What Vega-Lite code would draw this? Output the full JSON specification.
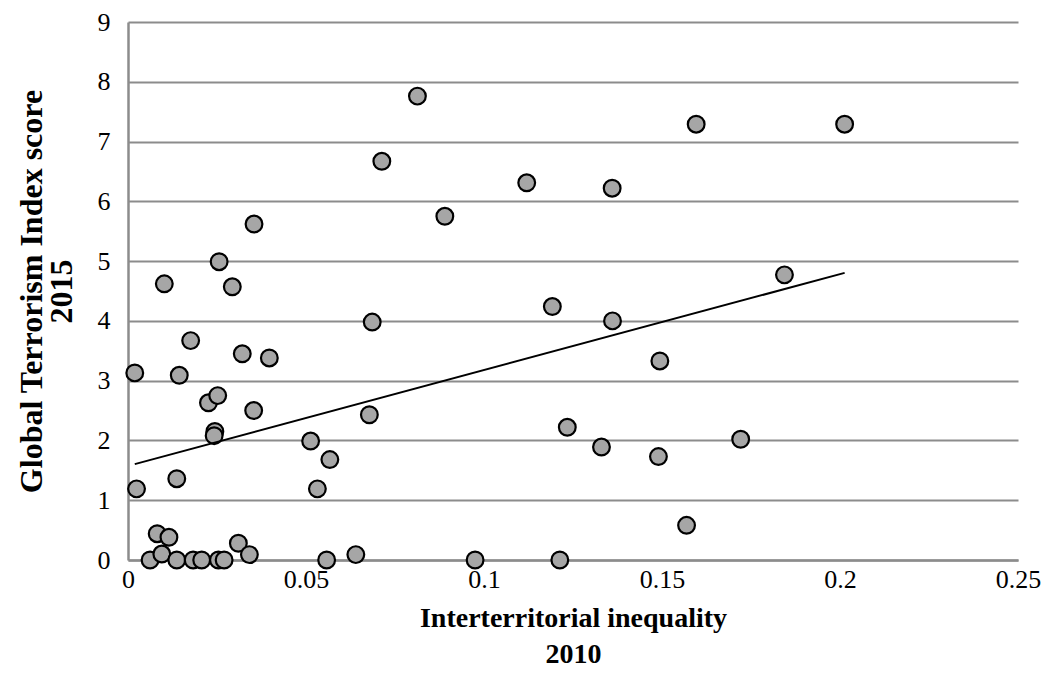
{
  "$schema": "https://vega.github.io/schema/vega-lite/v6.json",
  "width": 890,
  "height": 538,
  "autosize": "none",
  "padding": {"left": 128, "top": 22, "right": 27, "bottom": 118},
  "background": "white",
  "config": {"view": {"stroke": null}},
  "data": {"values": [
    {"ineq": 0.0019, "gti": 3.13},
    {"ineq": 0.0024, "gti": 1.19},
    {"ineq": 0.0062, "gti": 0.0},
    {"ineq": 0.0082, "gti": 0.44},
    {"ineq": 0.0095, "gti": 0.10},
    {"ineq": 0.0115, "gti": 0.38},
    {"ineq": 0.0102, "gti": 4.62},
    {"ineq": 0.0137, "gti": 1.36},
    {"ineq": 0.0137, "gti": 0.0},
    {"ineq": 0.0144, "gti": 3.09},
    {"ineq": 0.0176, "gti": 3.67},
    {"ineq": 0.0183, "gti": 0.0},
    {"ineq": 0.0207, "gti": 0.0},
    {"ineq": 0.0226, "gti": 2.63},
    {"ineq": 0.0244, "gti": 2.15},
    {"ineq": 0.0242, "gti": 2.08},
    {"ineq": 0.0252, "gti": 2.75},
    {"ineq": 0.0254, "gti": 0.0},
    {"ineq": 0.0270, "gti": 0.0},
    {"ineq": 0.0256, "gti": 4.99},
    {"ineq": 0.0293, "gti": 4.57},
    {"ineq": 0.0310, "gti": 0.28},
    {"ineq": 0.0321, "gti": 3.45},
    {"ineq": 0.0341, "gti": 0.09},
    {"ineq": 0.0353, "gti": 2.50},
    {"ineq": 0.0354, "gti": 5.62},
    {"ineq": 0.0397, "gti": 3.38},
    {"ineq": 0.0513, "gti": 1.99},
    {"ineq": 0.0532, "gti": 1.19},
    {"ineq": 0.0558, "gti": 0.0},
    {"ineq": 0.0567, "gti": 1.68},
    {"ineq": 0.0640, "gti": 0.09},
    {"ineq": 0.0678, "gti": 2.43},
    {"ineq": 0.0686, "gti": 3.98},
    {"ineq": 0.0713, "gti": 6.67},
    {"ineq": 0.0813, "gti": 7.76},
    {"ineq": 0.0890, "gti": 5.75},
    {"ineq": 0.0975, "gti": 0.0},
    {"ineq": 0.1120, "gti": 6.31},
    {"ineq": 0.1192, "gti": 4.24},
    {"ineq": 0.1213, "gti": 0.0},
    {"ineq": 0.1234, "gti": 2.22},
    {"ineq": 0.1330, "gti": 1.89},
    {"ineq": 0.1360, "gti": 6.22},
    {"ineq": 0.1361, "gti": 4.00},
    {"ineq": 0.1490, "gti": 1.73},
    {"ineq": 0.1494, "gti": 3.33},
    {"ineq": 0.1569, "gti": 0.58},
    {"ineq": 0.1596, "gti": 7.29},
    {"ineq": 0.1721, "gti": 2.02},
    {"ineq": 0.1844, "gti": 4.77},
    {"ineq": 0.2013, "gti": 7.29}
  ]},
  "encoding": {
    "x": {
      "field": "ineq", "type": "quantitative",
      "scale": {"domain": [0, 0.25], "nice": false, "zero": true},
      "axis": {
        "values": [0, 0.05, 0.1, 0.15, 0.2, 0.25],
        "labelExpr": "'' + datum.value",
        "grid": false, "ticks": false,
        "domainColor": "#8c8c8c", "domainWidth": 2.5,
        "labelFont": "Liberation Serif", "labelFontSize": 26, "labelColor": "black",
        "labelPadding": 6, "labelFlush": false,
        "title": ["Interterritorial inequality", "2010"],
        "titleFont": "Liberation Serif", "titleFontSize": 28, "titleFontWeight": "bold",
        "titleColor": "black", "titlePadding": 12, "titleLineHeight": 36
      }
    },
    "y": {
      "field": "gti", "type": "quantitative",
      "scale": {"domain": [0, 9], "nice": false},
      "axis": {
        "values": [0, 1, 2, 3, 4, 5, 6, 7, 8, 9],
        "grid": true, "gridColor": "#8c8c8c", "gridWidth": 2,
        "ticks": false,
        "domainColor": "#8c8c8c", "domainWidth": 2.5,
        "labelFont": "Liberation Serif", "labelFontSize": 26, "labelColor": "black",
        "labelPadding": 18,
        "title": ["Global Terrorism Index score", "2015"],
        "titleFont": "Liberation Serif", "titleFontSize": 32, "titleFontWeight": "bold",
        "titleColor": "black", "titlePadding": 19, "titleLineHeight": 30
      }
    }
  },
  "layer": [
    {
      "mark": {"type": "point", "shape": "circle", "filled": true, "fill": "#a6a6a6", "stroke": "black", "strokeWidth": 2.2, "size": 280, "opacity": 1}
    },
    {
      "transform": [{"regression": "gti", "on": "ineq"}],
      "mark": {"type": "line", "color": "black", "strokeWidth": 2}
    }
  ]
}
